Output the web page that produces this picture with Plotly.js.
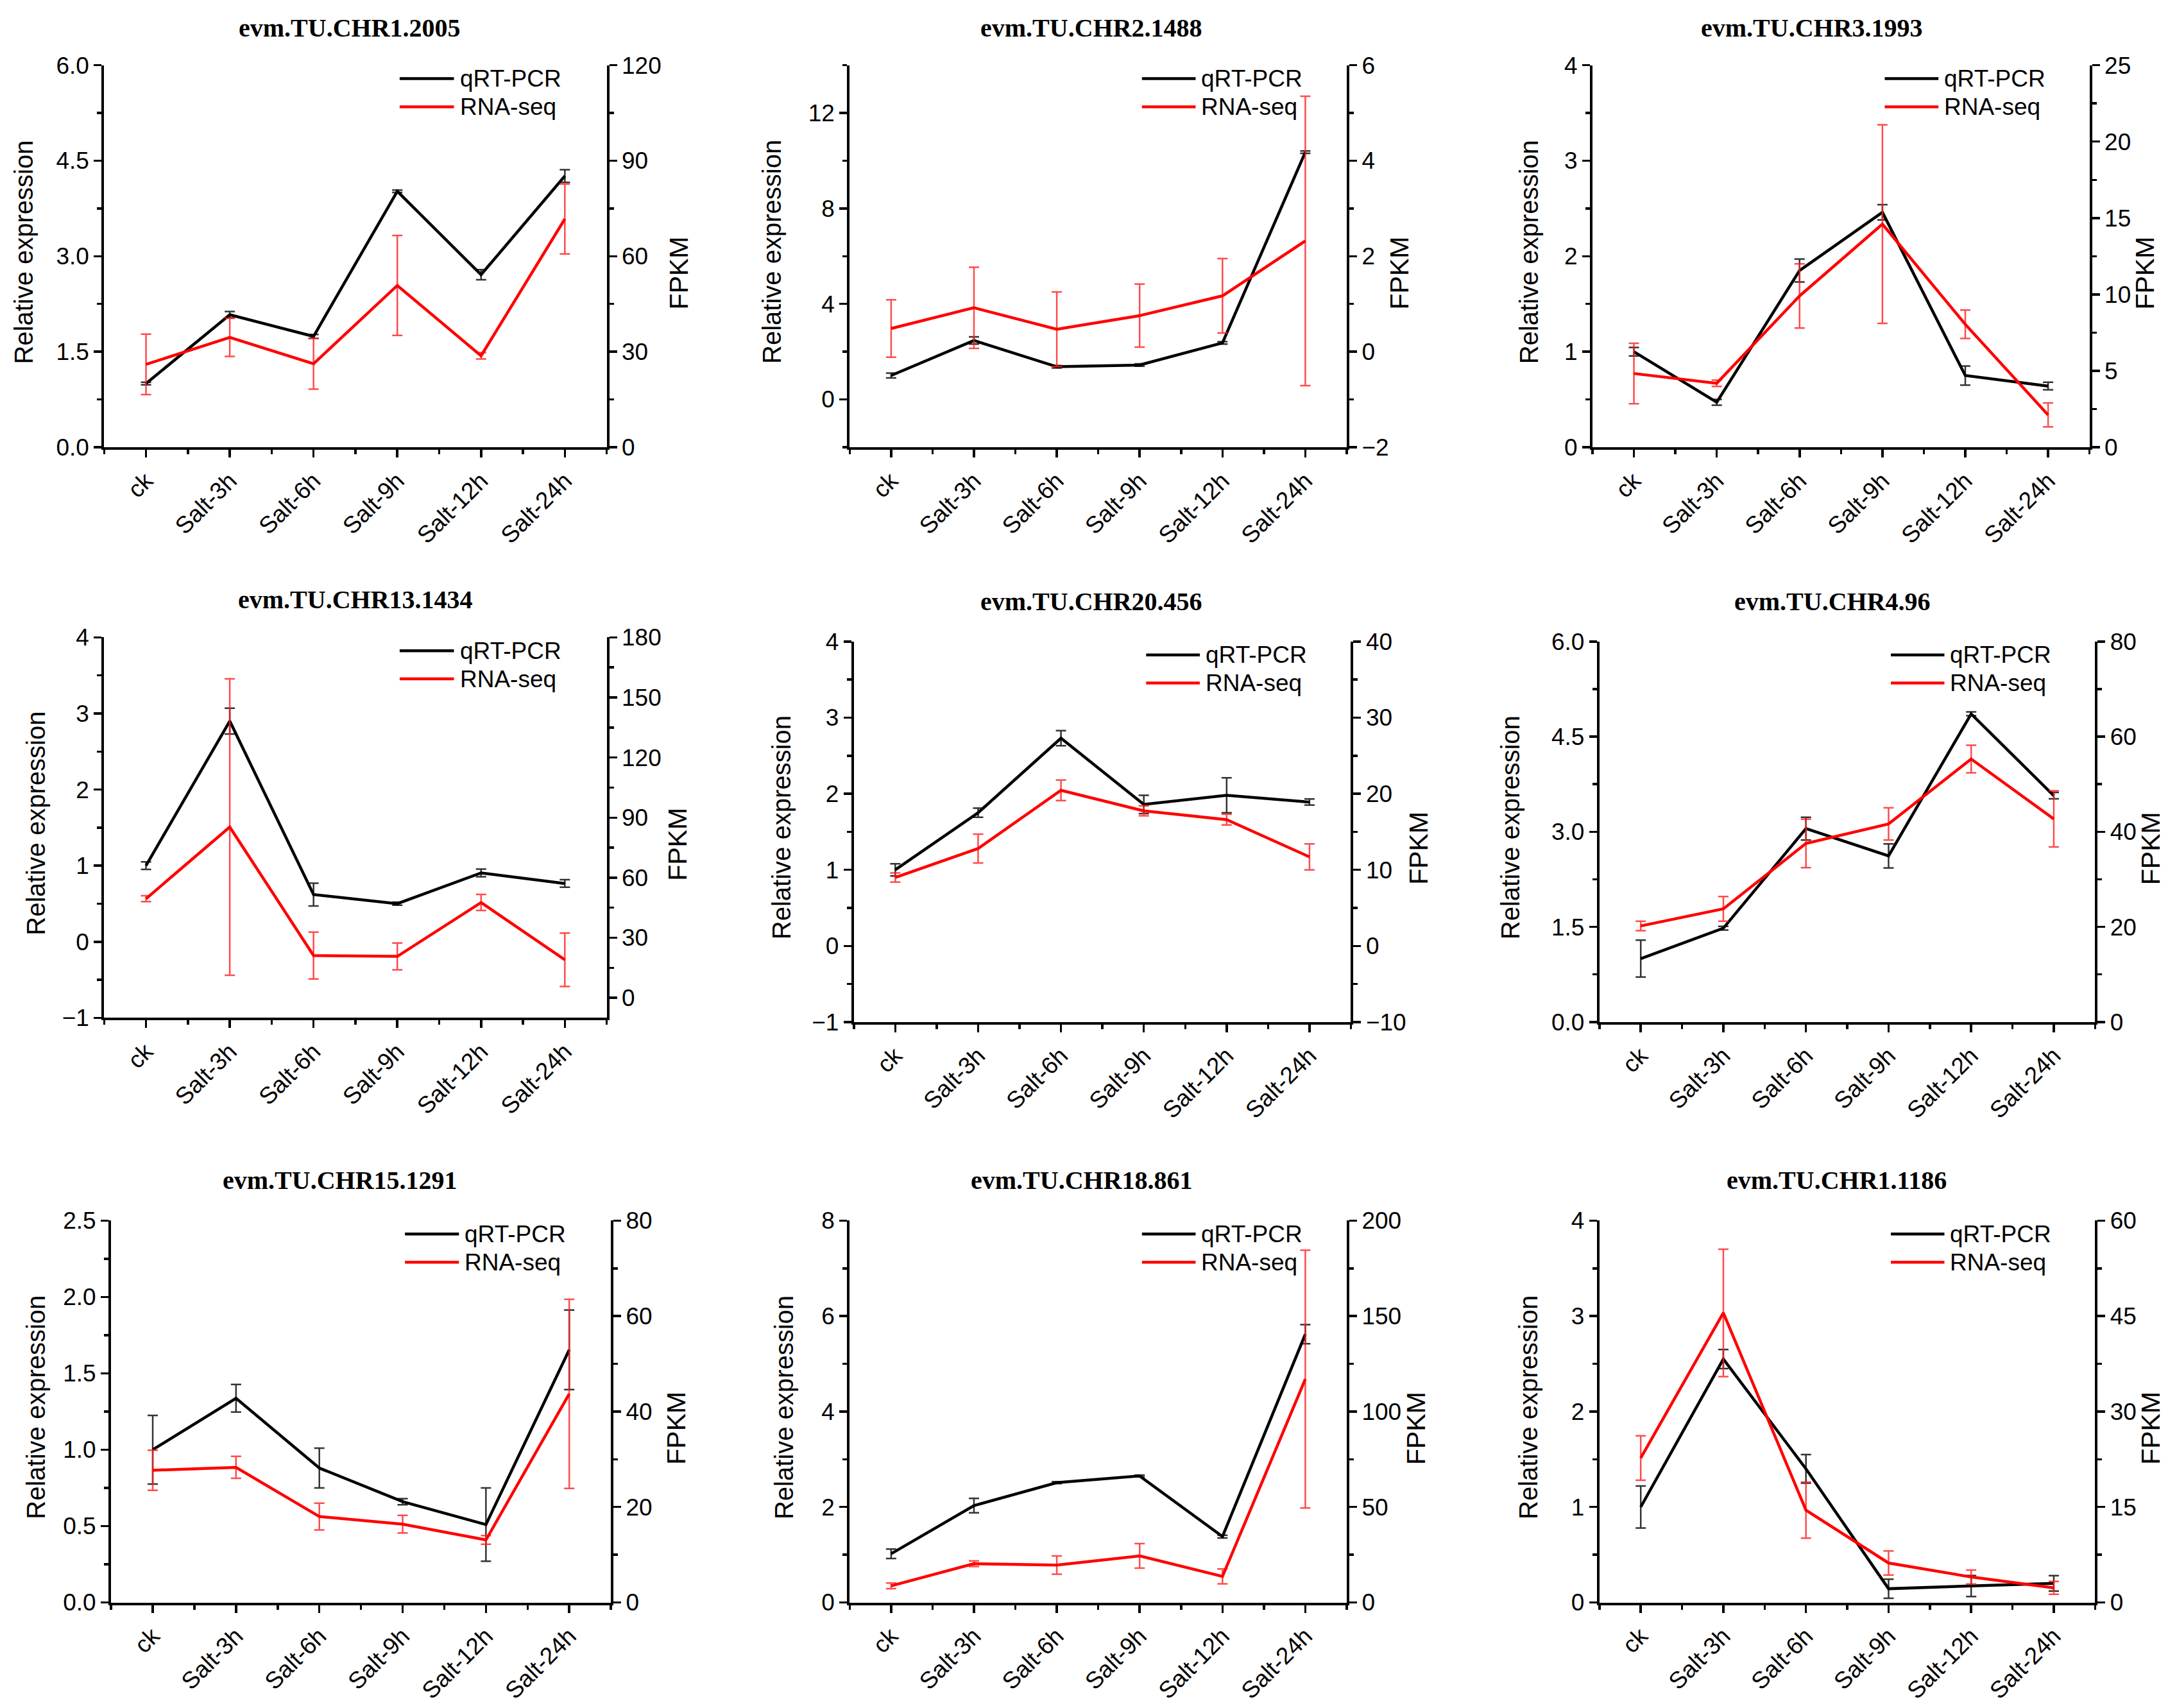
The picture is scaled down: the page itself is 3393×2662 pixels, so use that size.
<!DOCTYPE html>
<html>
<head>
<meta charset="utf-8">
<script src="https://cdn.plot.ly/plotly-3.0.1.min.js"></script>
<style>html,body{margin:0;padding:0;background:#fff;}#chart{width:3393px;height:2662px;}</style>
</head>
<body>
<div id="chart"></div>
<script>
// ---------------- DATA ----------------
const categories = ['ck', 'Salt-3h', 'Salt-6h', 'Salt-9h', 'Salt-12h', 'Salt-24h'];
const geneNames = ['evm.TU.CHR1.2005', 'evm.TU.CHR2.1488', 'evm.TU.CHR3.1993',
                   'evm.TU.CHR13.1434', 'evm.TU.CHR20.456', 'evm.TU.CHR4.96',
                   'evm.TU.CHR15.1291', 'evm.TU.CHR18.861', 'evm.TU.CHR1.1186'];
const seriesNames = ['qRT-PCR', 'RNA-seq'];

// qRT-PCR relative expression (left axis) and its error
const qpcr1 = [1.00, 2.08, 1.74, 4.02, 2.71, 4.26];
const qpcrErr1 = [0.02, 0.05, 0.03, 0.02, 0.08, 0.10];
const qpcr2 = [1.00, 2.47, 1.37, 1.44, 2.37, 10.36];
const qpcrErr2 = [0.10, 0.15, 0.05, 0.05, 0.05, 0.05];
const qpcr3 = [1.00, 0.47, 1.85, 2.46, 0.75, 0.64];
const qpcrErr3 = [0.045, 0.03, 0.12, 0.08, 0.10, 0.04];
const qpcr4 = [1.00, 2.90, 0.62, 0.50, 0.905, 0.766];
const qpcrErr4 = [0.05, 0.17, 0.15, 0.02, 0.05, 0.05];
const qpcr5 = [1.00, 1.75, 2.73, 1.86, 1.98, 1.89];
const qpcrErr5 = [0.08, 0.06, 0.10, 0.12, 0.23, 0.04];
const qpcr6 = [1.00, 1.48, 3.05, 2.62, 4.86, 3.57];
const qpcrErr6 = [0.29, 0.03, 0.18, 0.19, 0.03, 0.05];
const qpcr7 = [1.00, 1.337, 0.88, 0.66, 0.51, 1.654];
const qpcrErr7 = [0.225, 0.09, 0.13, 0.02, 0.24, 0.26];
const qpcr8 = [1.02, 2.03, 2.51, 2.65, 1.38, 5.62];
const qpcrErr8 = [0.10, 0.15, 0.02, 0.02, 0.03, 0.20];
const qpcr9 = [1.00, 2.55, 1.40, 0.144, 0.173, 0.20];
const qpcrErr9 = [0.22, 0.10, 0.15, 0.10, 0.11, 0.08];

// RNA-seq FPKM (right axis) and its error
const fpkm1 = [26.0, 34.5, 26.2, 50.8, 28.7, 71.7];
const fpkmErr1 = [9.5, 6.0, 8.0, 15.7, 1.0, 11.0];
const fpkm2 = [0.485, 0.92, 0.47, 0.755, 1.17, 2.32];
const fpkmErr2 = [0.60, 0.85, 0.78, 0.66, 0.78, 3.03];
const fpkm3 = [4.82, 4.18, 9.9, 14.6, 8.04, 2.11];
const fpkmErr3 = [1.98, 0.20, 2.10, 6.50, 0.93, 0.78];
const fpkm4 = [49.5, 85.3, 21.1, 20.7, 47.6, 19.0];
const fpkmErr4 = [1.5, 74.0, 11.7, 6.7, 4.0, 13.3];
const fpkm5 = [8.99, 12.8, 20.45, 17.75, 16.6, 11.7];
const fpkmErr5 = [0.6, 1.9, 1.35, 0.65, 0.7, 1.7];
const fpkm6 = [20.2, 23.8, 37.55, 41.65, 55.3, 42.7];
const fpkmErr6 = [1.0, 2.6, 5.1, 3.4, 2.9, 5.9];
const fpkm7 = [27.7, 28.3, 18.0, 16.4, 13.1, 43.7];
const fpkmErr7 = [4.2, 2.3, 2.8, 1.85, 0.9, 19.8];
const fpkm8 = [8.7, 20.3, 19.6, 24.4, 13.65, 117.0];
const fpkmErr8 = [1.5, 1.5, 4.8, 6.4, 3.9, 67.5];
const fpkm9 = [22.7, 45.5, 14.5, 6.2, 4.0, 2.3];
const fpkmErr9 = [3.5, 10.0, 4.4, 1.9, 1.1, 1.0];

const qpcrAll = [qpcr1, qpcr2, qpcr3, qpcr4, qpcr5, qpcr6, qpcr7, qpcr8, qpcr9];
const qpcrErrAll = [qpcrErr1, qpcrErr2, qpcrErr3, qpcrErr4, qpcrErr5, qpcrErr6, qpcrErr7, qpcrErr8, qpcrErr9];
const fpkmAll = [fpkm1, fpkm2, fpkm3, fpkm4, fpkm5, fpkm6, fpkm7, fpkm8, fpkm9];
const fpkmErrAll = [fpkmErr1, fpkmErr2, fpkmErr3, fpkmErr4, fpkmErr5, fpkmErr6, fpkmErr7, fpkmErr8, fpkmErr9];

// axis scales per panel: [min, max, major step]
const leftScales = [[0, 6, 1.5], [-2, 14, 4], [0, 4, 1], [-1, 4, 1], [-1, 4, 1], [0, 6, 1.5], [0, 2.5, 0.5], [0, 8, 2], [0, 4, 1]];
const rightScales = [[0, 120, 30], [-2, 6, 2], [0, 25, 5], [-10, 180, 30], [-10, 40, 10], [0, 80, 20], [0, 80, 20], [0, 200, 50], [0, 60, 15]];
const leftFormats = ['.1f', 'd', 'd', 'd', 'd', '.1f', '.1f', 'd', 'd'];

// ---------------- LAYOUT (positions in reference pixel frame 1568x1230) ----------------
const REFW = 1568, REFH = 1230;
const boxes = [
  [75, 437, 47, 322], [612, 970, 47, 322], [1147, 1505, 47, 322],
  [75, 437, 459, 733], [615, 973, 462, 736], [1152, 1509, 462, 736],
  [80, 440, 879, 1154], [612, 970, 879, 1154], [1152, 1509, 879, 1154]
];
const titlePos = [[252, 20], [786, 20], [1305, 20], [256, 432], [786, 433], [1320, 433], [245, 850], [779, 850], [1323, 850]];
const ytitleX = [17, 556, 1101, 26, 563, 1088, 26, 565, 1101];
const ftitleX = [489, 1008, 1545, 488, 1022, 1549, 487, 1020, 1549];

const px = v => v / REFW;
const py = v => 1 - v / REFH;

const FONT = 'Liberation Sans, Arial, sans-serif';
const SERIF = 'Liberation Serif, Times New Roman, serif';
const TICKFS = 37;

const traces = [];
const layout = {
  width: 3393, height: 2662,
  margin: {l: 0, r: 0, t: 0, b: 0},
  paper_bgcolor: '#ffffff', plot_bgcolor: '#ffffff',
  showlegend: false,
  font: {family: FONT, size: TICKFS, color: '#000'},
  annotations: [], shapes: []
};

const xIdx = categories.map((c, i) => i);

for (let p = 0; p < 9; p++) {
  const n = p + 1;
  const xa = n === 1 ? 'x' : 'x' + n;
  const yl = (2 * n - 1) === 1 ? 'y' : 'y' + (2 * n - 1);
  const yr = 'y' + (2 * n);
  const xKey = n === 1 ? 'xaxis' : 'xaxis' + n;
  const ylKey = (2 * n - 1) === 1 ? 'yaxis' : 'yaxis' + (2 * n - 1);
  const yrKey = 'yaxis' + (2 * n);
  const b = boxes[p];

  traces.push({
    type: 'scatter', mode: 'lines', name: seriesNames[0],
    x: xIdx, y: qpcrAll[p], xaxis: xa, yaxis: yl,
    line: {color: '#000000', width: 4.5},
    error_y: {type: 'data', array: qpcrErrAll[p], visible: true, color: '#333333', thickness: 2.5, width: 8}
  });
  traces.push({
    type: 'scatter', mode: 'lines', name: seriesNames[1],
    x: xIdx, y: fpkmAll[p], xaxis: xa, yaxis: yr,
    line: {color: '#ff0000', width: 4.5},
    error_y: {type: 'data', array: fpkmErrAll[p], visible: true, color: 'rgba(255,30,30,0.8)', thickness: 2.5, width: 8}
  });

  layout[xKey] = {
    domain: [px(b[0]), px(b[1])], anchor: yl,
    range: [-0.5, 5.5], tickmode: 'array', tickvals: xIdx, ticktext: categories,
    tickangle: -45, ticks: 'outside', ticklen: 12, tickwidth: 3.5, tickcolor: '#000',
    showline: true, linecolor: '#000', linewidth: 4, showgrid: false, zeroline: false,
    tickfont: {family: FONT, size: TICKFS, color: '#000'},
    minor: {tickmode: 'linear', tick0: 0.5, dtick: 1, ticks: 'outside', ticklen: 7, tickwidth: 3.5, tickcolor: '#000', showgrid: false},
    fixedrange: true
  };
  const ls = leftScales[p], rs = rightScales[p];
  layout[ylKey] = {
    domain: [py(b[3]), py(b[2])], anchor: xa,
    range: [ls[0], ls[1]], tickmode: 'linear', tick0: 0, dtick: ls[2], tickformat: leftFormats[p],
    ticks: 'outside', ticklen: 12, tickwidth: 3.5, tickcolor: '#000',
    showline: true, linecolor: '#000', linewidth: 4, showgrid: false, zeroline: false,
    tickfont: {family: FONT, size: TICKFS, color: '#000'},
    minor: {tick0: 0, dtick: ls[2] / 2, ticks: 'outside', ticklen: 7, tickwidth: 3.5, tickcolor: '#000', showgrid: false},
    fixedrange: true
  };
  layout[yrKey] = {
    overlaying: yl, side: 'right', anchor: xa,
    range: [rs[0], rs[1]], tickmode: 'linear', tick0: 0, dtick: rs[2],
    ticks: 'outside', ticklen: 12, tickwidth: 3.5, tickcolor: '#000',
    showline: true, linecolor: '#000', linewidth: 4, showgrid: false, zeroline: false,
    tickfont: {family: FONT, size: TICKFS, color: '#000'},
    minor: {tick0: 0, dtick: rs[2] / 2, ticks: 'outside', ticklen: 7, tickwidth: 3.5, tickcolor: '#000', showgrid: false},
    fixedrange: true
  };

  // panel title
  layout.annotations.push({
    xref: 'paper', yref: 'paper', x: px(titlePos[p][0]), y: py(titlePos[p][1]),
    xanchor: 'center', yanchor: 'middle', showarrow: false,
    text: '<b>' + geneNames[p] + '</b>', font: {family: SERIF, size: 40, color: '#000'}
  });
  // axis titles
  const midY = (b[2] + b[3]) / 2;
  layout.annotations.push({
    xref: 'paper', yref: 'paper', x: px(ytitleX[p]), y: py(midY - 3),
    xanchor: 'center', yanchor: 'middle', showarrow: false, textangle: -90,
    text: 'Relative expression', font: {family: FONT, size: 40, color: '#000'}
  });
  layout.annotations.push({
    xref: 'paper', yref: 'paper', x: px(ftitleX[p]), y: py(midY + 12),
    xanchor: 'center', yanchor: 'middle', showarrow: false, textangle: -90,
    text: 'FPKM', font: {family: FONT, size: 41, color: '#000'}
  });
  // legend
  const legY = [0.965, 0.891];
  const legCol = ['#000000', '#ff0000'];
  for (let k = 0; k < 2; k++) {
    layout.shapes.push({
      type: 'line', xref: xa + ' domain', yref: yl + ' domain',
      x0: 0.588, x1: 0.696, y0: legY[k], y1: legY[k],
      line: {color: legCol[k], width: 4.5}
    });
    layout.annotations.push({
      xref: xa + ' domain', yref: yl + ' domain', x: 0.705, y: legY[k],
      xanchor: 'left', yanchor: 'middle', showarrow: false,
      text: seriesNames[k], font: {family: FONT, size: 37, color: '#000'}
    });
  }
}

Plotly.newPlot('chart', traces, layout, {staticPlot: true, displayModeBar: false});
</script>
</body>
</html>
